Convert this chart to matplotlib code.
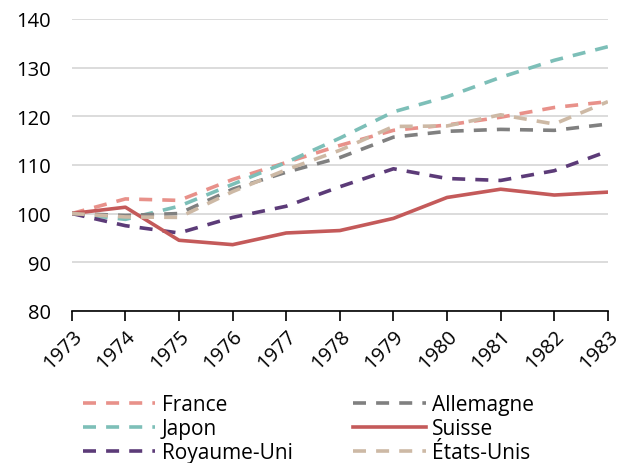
import matplotlib.pyplot as plt

annees = [1973, 1974, 1975, 1976, 1977, 1978, 1979, 1980, 1981, 1982, 1983]

france = [100, 103.0, 102.7, 107.0, 110.5, 114.0, 117.1, 118.2, 119.8, 121.8, 123.0]
japon = [100, 98.8, 101.5, 106.0, 110.5, 115.5, 120.9, 124.0, 128.0, 131.5, 134.3]
royaume_uni = [100, 97.5, 96.0, 99.2, 101.5, 105.5, 109.2, 107.2, 106.8, 108.8, 112.8]
allemagne = [100, 99.6, 100.0, 105.0, 108.5, 111.5, 115.7, 116.9, 117.3, 117.1, 118.4]
suisse = [100, 101.3, 94.5, 93.6, 96.0, 96.5, 99.0, 103.3, 105.0, 103.8, 104.4]
etats_unis = [100, 99.3, 99.2, 104.5, 109.0, 113.0, 117.9, 118.0, 120.3, 118.4, 123.0]

plt.rcParams['font.family'] = ['Open Sans', 'DejaVu Sans']

fig = plt.figure(figsize=(6.19, 4.64), dpi=100)
ax = fig.add_axes([0.116, 0.328, 0.866, 0.629])

lw = 2.6
tirets = (3.6, 2.8)
# ordre colonne par colonne pour obtenir le legende ligne par ligne
ax.plot(annees, france, color='#E8918A', lw=lw, dashes=tirets, label='France')
ax.plot(annees, japon, color='#7DBFB8', lw=lw, dashes=tirets, label='Japon')
ax.plot(annees, royaume_uni, color='#5C3B78', lw=lw, dashes=tirets, label='Royaume-Uni')
ax.plot(annees, allemagne, color='#808080', lw=lw, dashes=tirets, label='Allemagne')
ax.plot(annees, suisse, color='#C45A5A', lw=lw, label='Suisse')
ax.plot(annees, etats_unis, color='#CDB9A5', lw=lw, dashes=tirets, label='États-Unis')

ax.set_xlim(1973, 1983)
ax.set_ylim(80, 140)
ax.set_yticks(range(80, 141, 10))
ax.set_xticks(annees)
ax.set_xticklabels([str(a) for a in annees], rotation=45, ha='right',
                   rotation_mode='anchor', fontsize=14.5)
ax.tick_params(axis='y', length=0, labelsize=14.5, pad=15)
ax.tick_params(axis='x', length=7, width=1.2, direction='out', pad=4)
ax.grid(axis='y', color='#D9D9D9', lw=1.3)
ax.set_axisbelow(True)
for s in ['top', 'right', 'left']:
    ax.spines[s].set_visible(False)
ax.spines['bottom'].set_linewidth(1.2)

ax.legend(loc='upper left', bbox_to_anchor=(0.02, -0.285), ncol=2, frameon=False,
          fontsize=15, handlelength=3.5, handletextpad=0.3, labelspacing=0.15,
          columnspacing=2.9, borderaxespad=0, borderpad=0)

fig.savefig('out.png', dpi=100)
